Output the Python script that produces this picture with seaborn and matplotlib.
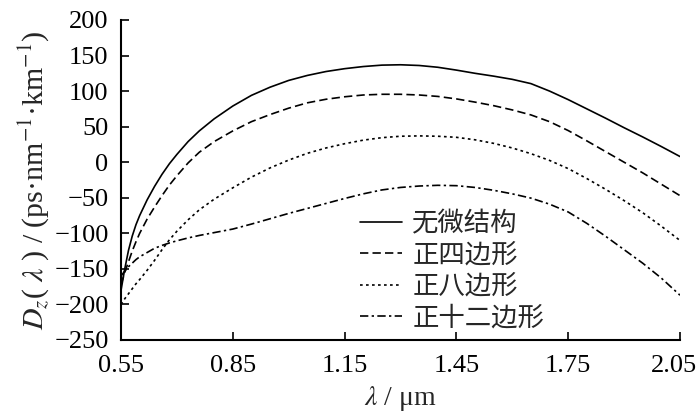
import pandas as pd
import matplotlib
matplotlib.use('Agg')
import matplotlib.pyplot as plt
import matplotlib.transforms as mtransforms
import seaborn as sns

# wavelength grid (um) and dispersion values
wavelength = [0.55, 0.56, 0.57, 0.58, 0.59, 0.60, 0.62, 0.64, 0.66, 0.68, 0.70,
              0.73, 0.76, 0.80, 0.85, 0.90, 0.95, 1.00, 1.05, 1.10, 1.15, 1.20,
              1.25, 1.30, 1.35, 1.40, 1.45, 1.50, 1.55, 1.60, 1.65, 1.70, 1.75,
              1.80, 1.85, 1.90, 1.95, 2.00, 2.05]

d_none = [-180, -150, -124, -104, -88, -75, -53, -34, -17, -2, 11,
          29, 44, 61, 79, 94, 105.5, 115, 122, 127.5, 131.5, 134.5,
          136.5, 137, 136, 133.5, 129.5, 125, 121, 116.5, 110.5, 100, 88,
          75, 62, 48.5, 35.5, 22, 8]

d_square = [-172, -155, -140, -125, -112, -100, -80, -63, -47, -32, -19,
            -1, 14, 29, 44, 57, 67, 76, 83.5, 88.5, 92, 94.5,
            95.5, 95.5, 94.5, 92.5, 89, 84.5, 79.5, 73.5, 66.5, 57, 44.5,
            30, 15, 0, -15, -31, -47]

d_octagon = [-200, -192, -185, -178, -171, -165, -152, -138, -123, -109, -97,
             -81, -67, -52, -36, -21, -8, 3, 12.5, 20, 26, 31,
             34.5, 36.5, 37, 36.5, 35, 31.5, 26.5, 20, 12, 2.5, -9,
             -23, -38, -54, -71, -90, -110]

d_dodecagon = [-160, -153, -147, -142, -137, -133, -127, -121, -117, -113.5, -110.5,
               -106.5, -103, -99, -94, -87, -79.5, -72, -65, -58, -51, -44.5,
               -39, -35.5, -33.5, -32.5, -33, -35.5, -39.5, -44.5, -50.5, -59, -70,
               -86, -104, -123, -142, -163, -187]

labels = ['无微结构', '正四边形', '正八边形', '正十二边形']
x_ticks = [0.55, 0.85, 1.15, 1.45, 1.75, 2.05]
y_ticks = list(range(-250, 201, 50))

df = pd.concat([
    pd.DataFrame({'wl': wavelength, 'D': vals, 'kind': lab})
    for vals, lab in zip([d_none, d_square, d_octagon, d_dodecagon], labels)
])

sns.set_theme(style="ticks")
plt.rcParams['font.family'] = ['Liberation Serif', 'Noto Sans CJK SC', 'DejaVu Sans']
plt.rcParams['mathtext.fontset'] = 'stix'

fig = plt.figure(figsize=(7, 4.16), dpi=100)
ax = fig.add_axes([0.1729, 0.1827, 0.7985, 0.7693])

dash_map = {labels[0]: '', labels[1]: (5, 2.5), labels[2]: (1.6, 2.0),
            labels[3]: (5, 2, 1.4, 2)}
sns.lineplot(data=df, x='wl', y='D', style='kind', dashes=dash_map,
             color='black', linewidth=1.2, ax=ax, sort=False)

ax.set_xlim(0.55, 2.05)
ax.set_ylim(-250, 200)
ax.set_xticks(x_ticks)
ax.set_xticklabels([f'{t:.2f}' for t in x_ticks])
ax.set_yticks(y_ticks)
ax.tick_params(direction='in', length=6, width=1.2, labelsize=19, colors='black')
ax.tick_params(axis='x', pad=11)
ax.tick_params(axis='y', pad=9)
for side in ['top', 'right']:
    ax.spines[side].set_visible(False)
for side in ['left', 'bottom']:
    ax.spines[side].set_linewidth(1.5)
    ax.spines[side].set_color('black')

# the last x label sits a little left of its tick so it stays inside the figure
last = ax.get_xticklabels()[-1]
last.set_transform(last.get_transform() + mtransforms.ScaledTranslation(-6 / 100, 0, fig.dpi_scale_trans))

ax.set_xlabel(r'$\lambda$ / μm', fontsize=20, labelpad=5)
ax.set_ylabel(r'$D_z$( $\lambda$ ) / (ps·nm$^{-1}$·km$^{-1}$)', fontsize=21.5, labelpad=2)

leg = ax.legend(loc='lower left', bbox_to_anchor=(0.408, -0.006), frameon=False,
                handlelength=1.6, handletextpad=0.4, labelspacing=0.17,
                borderaxespad=0.0, prop={'family': 'Noto Sans CJK SC', 'size': 19})
for line in leg.get_lines():
    line.set_linewidth(1.2)

plt.savefig('out.png', dpi=100)
